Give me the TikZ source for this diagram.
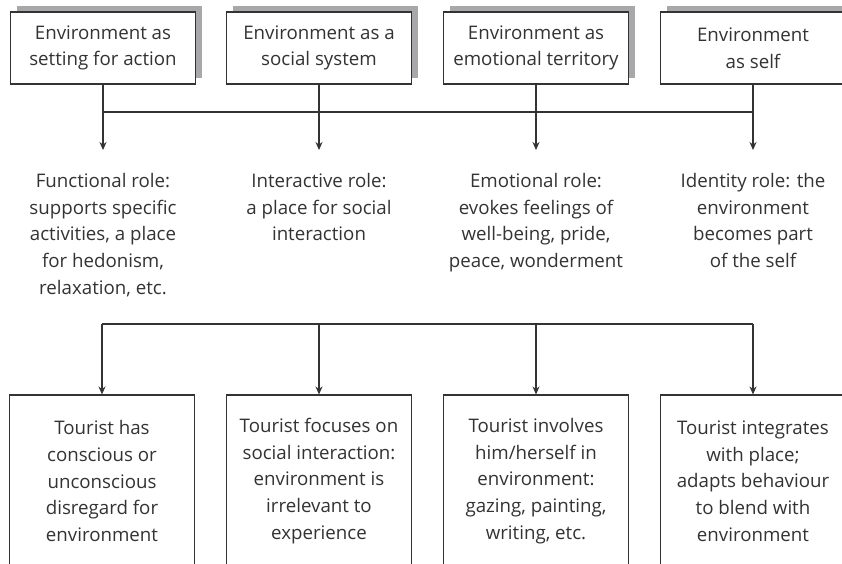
\documentclass[tikz,border=0pt]{standalone}
\usepackage{fontspec}
\setmainfont{Open Sans}
\usetikzlibrary{arrows.meta,shadows}
\definecolor{ink}{HTML}{333333}
\definecolor{shadowgrey}{HTML}{A8A8AA}
\tikzset{
  envbox/.style={draw=ink, fill=white, line width=1.1pt, minimum width=185pt,
    minimum height=72pt, align=center, inner sep=0pt, text=ink,
    general shadow={fill=shadowgrey, shadow xshift=6pt, shadow yshift=6pt}},
  tourbox/.style={draw=ink, fill=white, line width=1.1pt, minimum width=185pt,
    minimum height=172pt, align=center, inner sep=0pt, text=ink},
  roletext/.style={align=center, inner sep=0pt, text=ink, anchor=north},
  link/.style={draw=ink, line width=1.1pt},
  arrowlink/.style={link, -{Stealth[length=8pt,width=7pt]}}
}

\begin{document}
\begin{tikzpicture}[x=1pt, y=-1pt, font=\fontsize{18.7}{26.7}\selectfont]
  \useasboundingbox (0,0) rectangle (842,564);
  \clip (0,0) rectangle (842,564);

  % environment boxes
  \node[envbox] (t1) at (103,48) {Environment as\\setting for action};
  \node[envbox] (t2) at (319,48) {Environment as a\\social system};
  \node[envbox] (t3) at (536,48) {Environment as\\emotional territory};
  \node[envbox] (t4) at (753,48) {Environment\\as self};

  % roles
  \node[roletext] (r1) at (103,173) {Functional role:\\supports specific\\activities, a place\\for hedonism,\\relaxation, etc.};
  \node[roletext] (r2) at (319,173) {Interactive role:\\a place for social\\interaction};
  \node[roletext] (r3) at (536,173) {Emotional role:\\evokes feelings of\\well-being, pride,\\peace, wonderment};
  \node[roletext] (r4) at (753,173) {Identity role: the\\environment\\becomes part\\of the self};

  % tourist boxes
  \node[tourbox] (b1) at (102,481) {Tourist has\\conscious or\\unconscious\\disregard for\\environment};
  \node[tourbox] (b2) at (319,481) {Tourist focuses on\\social interaction:\\environment is\\irrelevant to\\experience};
  \node[tourbox] (b3) at (536,481) {Tourist involves\\him/herself in\\environment:\\gazing, painting,\\writing, etc.};
  \node[tourbox] (b4) at (753,481) {Tourist integrates\\with place;\\adapts behaviour\\to blend with\\environment};

  \coordinate (topbus) at (0,112);
  \coordinate (lowbus) at (0,324);

  % connectors
  \draw[link] (t1.south |- topbus) -- (t4.south |- topbus);
  \foreach \i in {1,...,4} {
    \draw[arrowlink, shorten >=23pt] (t\i.south) -- (r\i.north);
  }
  \draw[link] (b1.north |- lowbus) -- (b4.north |- lowbus);
  \foreach \i in {1,...,4} {
    \draw[arrowlink] (b\i.north |- lowbus) -- (b\i.north);
  }
\end{tikzpicture}
\end{document}
